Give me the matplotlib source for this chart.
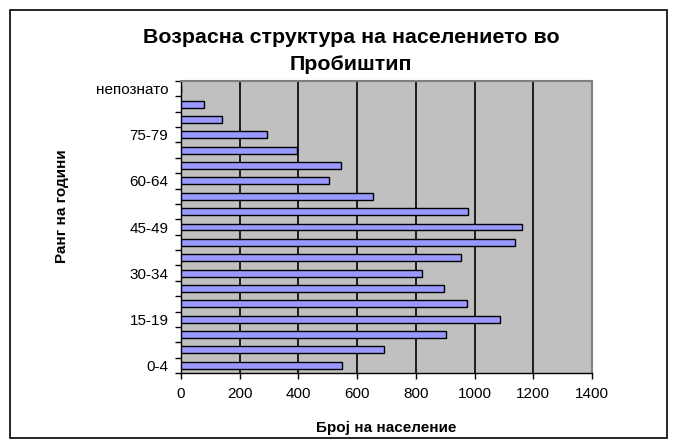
import numpy as np
import matplotlib.pyplot as plt
from matplotlib.patches import Rectangle

plt.rcParams['font.family'] = ['Liberation Sans', 'DejaVu Sans']

categories = ['0-4', '5-9', '10-14', '15-19', '20-24', '25-29', '30-34', '35-39',
              '40-44', '45-49', '50-54', '55-59', '60-64', '65-69', '70-74',
              '75-79', '80-84', '85+', 'непознато']
population = [547, 690, 902, 1086, 973, 896, 820, 954, 1137, 1163,
              979, 655, 503, 544, 395, 292, 138, 77, 0]
x_ticks = [0, 200, 400, 600, 800, 1000, 1200, 1400]


def main():
    fig = plt.figure(figsize=(6.77, 4.48), dpi=100)
    fig.patches.append(Rectangle((10 / 677, 10 / 448), 657 / 677, 428 / 448,
                                 transform=fig.transFigure, fill=False,
                                 edgecolor='black', lw=1.2))
    ax = fig.add_axes([181 / 677, 75 / 448, 411 / 677, 292 / 448])
    ax.set_facecolor('#C0C0C0')

    y = np.arange(len(categories))
    ax.barh(y, population, height=0.45, color='#9999FF', edgecolor='black',
            lw=1, zorder=3)

    ax.set_xlim(0, 1400)
    ax.set_ylim(-0.5, len(categories) - 0.5)
    ax.set_xticks(x_ticks)
    ax.tick_params(axis='x', direction='out', length=4, width=1,
                   labelsize=11, pad=6)
    for v in x_ticks[1:-1]:
        ax.axvline(v, color='black', lw=1.2, zorder=1)

    ax.set_yticks(y[::3])
    ax.set_yticklabels(categories[::3])
    ax.set_yticks(np.arange(-0.5, len(categories), 1), minor=True)
    ax.tick_params(axis='y', which='major', length=0, labelsize=11, pad=9)
    ax.tick_params(axis='y', which='minor', direction='out', length=4, width=1)

    for side in ['top', 'right']:
        ax.spines[side].set_color('#808080')
        ax.spines[side].set_linewidth(1.5)
    for side in ['left', 'bottom']:
        ax.spines[side].set_color('black')
        ax.spines[side].set_linewidth(1)

    fig.text(351 / 677, 1 - 51 / 448, 'Возрасна структура на населението во\nПробиштип',
             ha='center', va='center', fontsize=15.4, fontweight='bold',
             linespacing=1.5)
    fig.text((181 + 592) / 2 / 677, 1 - 428 / 448, 'Број на население',
             ha='center', va='center', fontsize=11, fontweight='bold')
    fig.text(62 / 677, 1 - 206 / 448, 'Ранг на години', rotation=90,
             ha='center', va='center', fontsize=11, fontweight='bold')

    fig.savefig('out.png', dpi=100)


if __name__ == '__main__':
    main()
